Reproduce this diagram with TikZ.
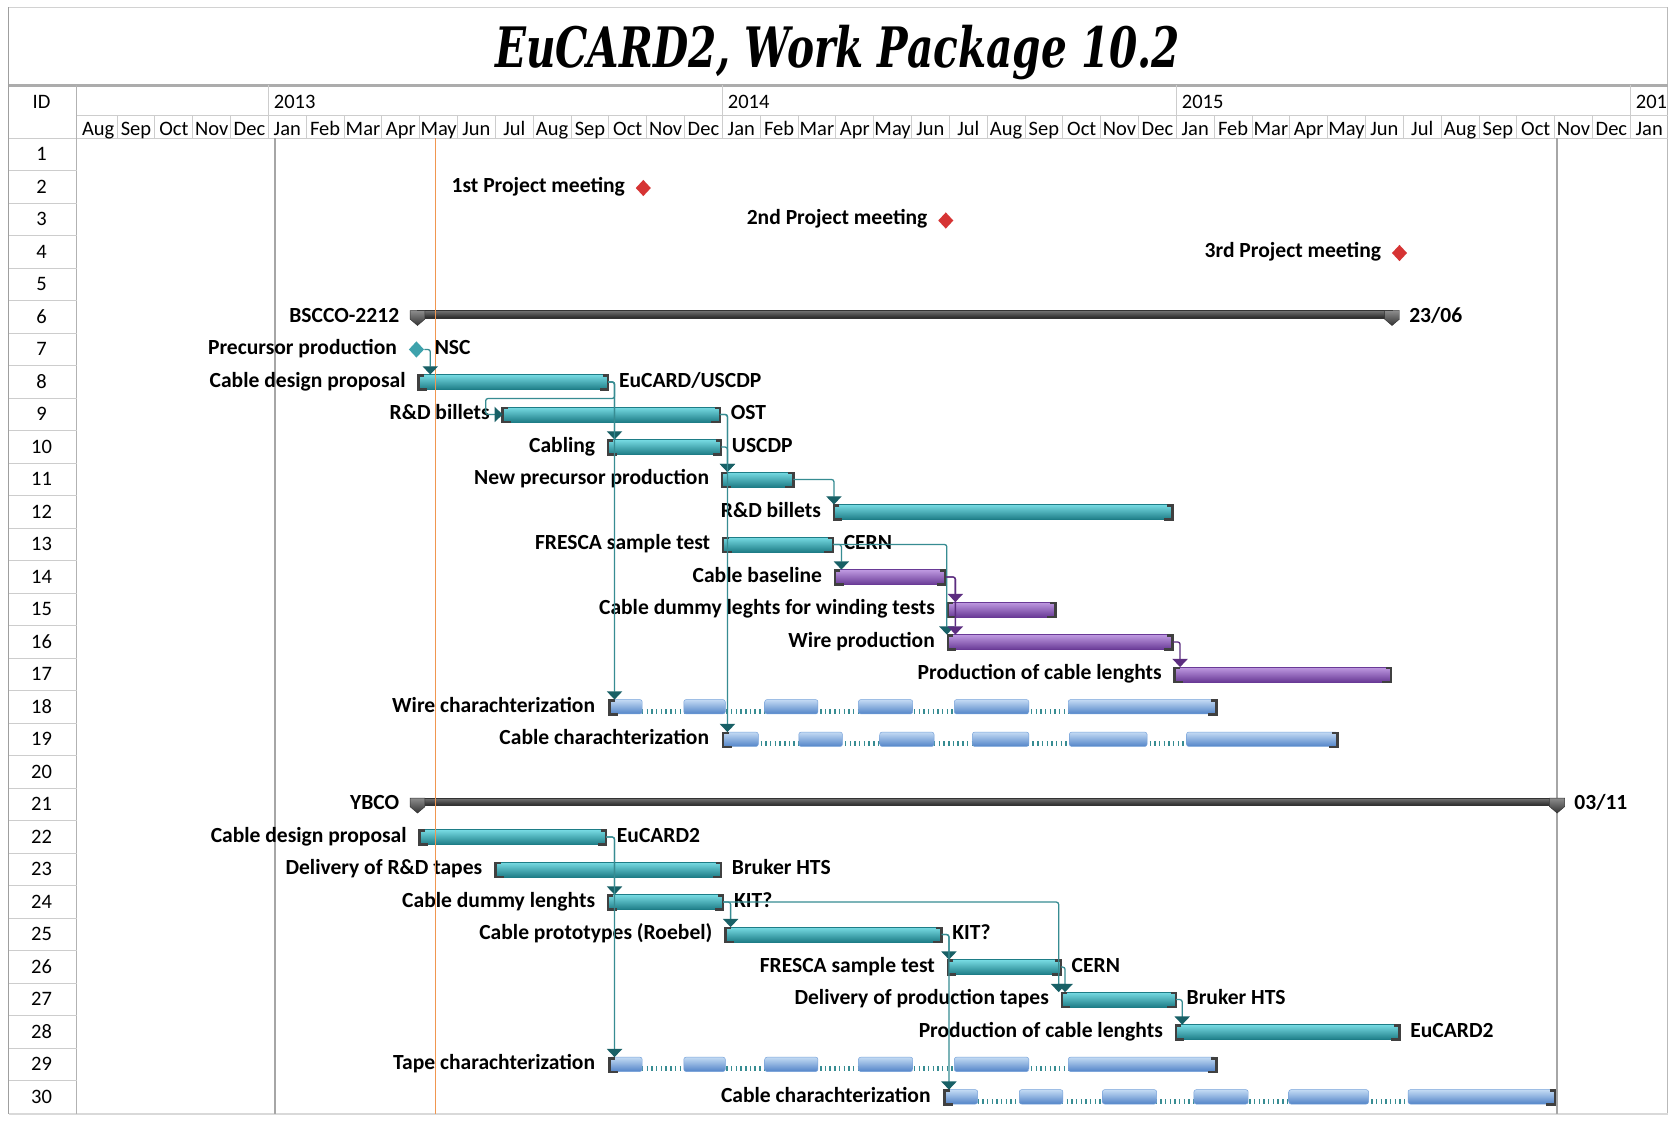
\documentclass[tikz,border=0pt]{standalone}
\usepackage{fontspec}
\setmainfont{Carlito}
\newfontfamily\titlefont{DejaVu Serif}
\usepackage{graphicx}
\usetikzlibrary{arrows.meta,calc,shapes.geometric}
\definecolor{barteal}{RGB}{62,182,192}
\definecolor{barteallight}{RGB}{120,220,228}
\definecolor{bartealdark}{RGB}{30,125,135}
\definecolor{linkteal}{RGB}{55,140,146}
\definecolor{arrowteal}{RGB}{24,96,102}
\definecolor{barpurple}{RGB}{150,100,195}
\definecolor{barpurplelight}{RGB}{192,155,226}
\definecolor{barpurpledark}{RGB}{105,58,150}
\definecolor{linkpurple}{RGB}{92,45,128}
\definecolor{splitblue}{RGB}{118,162,218}
\definecolor{splitbluelight}{RGB}{196,219,244}
\definecolor{splitbluedark}{RGB}{82,132,200}
\definecolor{milered}{RGB}{214,52,52}
\definecolor{mileteal}{RGB}{62,162,172}
\definecolor{todayorange}{RGB}{240,150,80}
\definecolor{gridgray}{RGB}{205,205,205}

\begin{document}
\begin{tikzpicture}[x=0.031953cm, y=-0.031953cm,
  declare function={ry(\r)=145+(\r-1)*30.52; mx(\m)=252+35.52*\m;},
  lab/.style={font={\bfseries\fontsize{18.4}{20}\selectfont}, inner sep=0pt},
  hdr/.style={font={\fontsize{17.5}{19}\selectfont}, inner sep=0pt},
  grid/.style={draw=gridgray, line width=0.8pt},
  tealbar/.style={top color=barteallight, middle color=barteal, bottom color=bartealdark, draw=bartealdark, line width=0.4pt},
  purplebar/.style={top color=barpurplelight, middle color=barpurple, bottom color=barpurpledark, draw=barpurpledark, line width=0.4pt},
  splitbar/.style={top color=splitbluelight, bottom color=splitbluedark, draw=splitblue, line width=0.4pt, rounded corners=2pt},
  splitdots/.style={draw=linkteal, line width=4.2pt, dash pattern=on 1.2pt off 2.8pt},
  bracket/.style={draw=black!75, line width=2.2pt},
  sumbar/.style={top color=black!55, bottom color=black!85, draw=black!80, line width=0.4pt},
  sumcap/.style={top color=black!45, bottom color=black!80, draw=black!80, line width=0.4pt},
  milestone/.style={diamond, inner sep=0pt, minimum width=13pt, minimum height=14pt},
  link/.style={draw=linkteal, line width=1.1pt, rounded corners=2pt, -{Triangle[width=13pt,length=7pt,color=arrowteal]}},
  plink/.style={draw=linkpurple, line width=1.1pt, rounded corners=2pt, -{Triangle[width=13pt,length=7pt,color=linkpurple]}}]

\fill[white] (0,0) rectangle (1568,1060);
\useasboundingbox (0,0) rectangle (1568,1060);

% Title
\node[inner sep=0pt, anchor=base] (title) at (786.5,63)
  {\resizebox{20.55cm}{1.27cm}{\titlefont\bfseries\itshape EuCARD2, Work Package 10.2}};

% Frame and header lines
\draw[gray!35, line width=1.5pt] (8,7) -- (1566,7);
\draw[gray!75, line width=1pt] (8,7) -- (8,1046);
\draw[gray!55, line width=1pt] (1566,7) -- (1566,1046);
\draw[gray!65, line width=2.5pt] (8,80) -- (1566,80);
\draw[gray!30, line width=2pt] (8,1046) -- (1566,1046);
\draw[grid] (72,108) -- (1566,108);
\draw[grid] (8,129.7) -- (1566,129.7);
\draw[gray!60, line width=1pt] (72,80) -- (72,1046);
\foreach \i in {-4,...,35}
    \draw[grid] ({mx(\i)},108) -- ({mx(\i)},129.7);
\foreach \i in {0,12,24,36}
    \draw[grid] ({mx(\i)},80) -- ({mx(\i)},129.7);

% Header labels
\node[hdr, anchor=base] (idhead) at (39,102) {ID};
\foreach \y/\m in {2013/0,2014/12,2015/24,201/36}
    \node[hdr, anchor=base west] (yr\m) at ({mx(\m)+5},102) {\y};
\foreach \n [count=\i from -5] in {Aug,Sep,Oct,Nov,Dec,Jan,Feb,Mar,Apr,May,Jun,Jul,Aug,Sep,Oct,Nov,Dec,Jan,Feb,Mar,Apr,May,Jun,Jul,Aug,Sep,Oct,Nov,Dec,Jan,Feb,Mar,Apr,May,Jun,Jul,Aug,Sep,Oct,Nov,Dec,Jan}
    \node[hdr, anchor=base] (mon\i) at ({mx(\i+0.5)},127) {\n};

% ID column
\foreach \k in {1,...,29}
    \draw[grid] (8,{129.7+\k*30.52}) -- (72,{129.7+\k*30.52});
\foreach \r in {1,...,30}
    \node[hdr, anchor=base] (id\r) at (39,{ry(\r)+6}) {\r};

% Project start / finish lines
\draw[gray!70, line width=1.4pt] (258,129.7) -- (258,1046);
\draw[gray!70, line width=1.4pt] (1462,129.7) -- (1462,1046);

% Meetings
\foreach \r/\x/\lft in {2/604/{1st Project meeting}, 3/888/{2nd Project meeting}, 4/1314/{3rd Project meeting}}{
    \node[milestone, fill=milered] (m\r) at (\x,{ry(\r)+1}) {};
    \node[lab, anchor=base east] (lab\r) at (\x-17,{ry(\r)+5}) {\lft};
}

% Summary bars
\foreach \r/\s/\e/\lft/\rgt in {6/392/1307/BSCCO-2212/{23/06}, 21/392/1462/YBCO/{03/11}}{
    \coordinate (s\r) at (\s,{ry(\r)});
    \coordinate (e\r) at (\e,{ry(\r)});
    \draw[sumbar] (\s,{ry(\r)-6}) rectangle (\e,{ry(\r)+1});
    \foreach \x in {\s,\e}
        \draw[sumcap] (\x-7,{ry(\r)-6}) -- (\x+7,{ry(\r)-6}) -- (\x+7,{ry(\r)+2}) -- (\x,{ry(\r)+8}) -- (\x-7,{ry(\r)+2}) -- cycle;
    \node[lab, anchor=base east] (lab\r) at (\s-17,{ry(\r)+5}) {\lft};
    \node[lab, anchor=base west] (res\r) at (\e+16,{ry(\r)+5}) {\rgt};
}

% Precursor milestone
\node[milestone, fill=mileteal] (m7) at (391,{ry(7)}) {};
\node[lab, anchor=base east] (lab7) at (373,{ry(7)+5}) {Precursor production};
\node[lab, anchor=base west] (res7) at (408,{ry(7)+5}) {NSC};

% Task bars
\foreach \r/\s/\e/\sty/\lft in {
    8/393/571/tealbar/{Cable design proposal},
    9/472/676/tealbar/{R\&D billets},
    10/571/677/tealbar/{Cabling},
    11/678/745/tealbar/{New precursor production},
    12/783/1101/tealbar/{R\&D billets},
    13/679/782/tealbar/{FRESCA sample test},
    14/784/888/purplebar/{Cable baseline},
    15/890/991/purplebar/{Cable dummy leghts for winding tests},
    16/890/1101/purplebar/{Wire production},
    17/1103/1306/purplebar/{Production of cable lenghts},
    22/394/569/tealbar/{Cable design proposal},
    23/465/677/tealbar/{Delivery of R\&D tapes},
    24/571/679/tealbar/{Cable dummy lenghts},
    25/681/884/tealbar/{Cable prototypes (Roebel)},
    26/890/996/tealbar/{FRESCA sample test},
    27/997/1104/tealbar/{Delivery of production tapes},
    28/1104/1314/tealbar/{Production of cable lenghts}}{
    \coordinate (s\r) at (\s,{ry(\r)});
    \coordinate (e\r) at (\e,{ry(\r)});
    \draw[\sty] (\s,{ry(\r)-7}) rectangle (\e,{ry(\r)+7});
    \draw[bracket] (\s+5,{ry(\r)-6}) -- (\s,{ry(\r)-6}) -- (\s,{ry(\r)+7}) -- (\s+8,{ry(\r)+7});
    \draw[bracket] (\e-5,{ry(\r)-6}) -- (\e,{ry(\r)-6}) -- (\e,{ry(\r)+7}) -- (\e-8,{ry(\r)+7});
    \node[lab, anchor=base east] (lab\r) at (\s-12,{ry(\r)+5}) {\lft};
}

% Split bars (characterization)
\foreach \r/\first/\last/\segs/\lft in {
    18/572/1142/{572/603,642/681,718/768,806/857,896/966,1003/1142}/{Wire charachterization},
    19/679/1256/{679/712,750/791,826/877,913/966,1004/1077,1114/1256}/{Cable charachterization},
    29/572/1142/{572/603,642/681,718/768,806/857,896/966,1003/1142}/{Tape charachterization},
    30/887/1460/{887/918,957/998,1035/1086,1121/1172,1210/1285,1322/1460}/{Cable charachterization}}{
    \coordinate (s\r) at (\first,{ry(\r)});
    \coordinate (e\r) at (\last,{ry(\r)});
    \draw[splitdots] (\first,{ry(\r)+4}) -- (\last,{ry(\r)+4});
    \foreach \a/\b in \segs
        \draw[splitbar] (\a,{ry(\r)-7}) rectangle (\b,{ry(\r)+6.5});
    \draw[bracket] (\first+5,{ry(\r)-6}) -- (\first,{ry(\r)-6}) -- (\first,{ry(\r)+7}) -- (\first+8,{ry(\r)+7});
    \draw[bracket] (\last-5,{ry(\r)-6}) -- (\last,{ry(\r)-6}) -- (\last,{ry(\r)+7}) -- (\last-8,{ry(\r)+7});
    \node[lab, anchor=base east] (lab\r) at (\first-13,{ry(\r)+5}) {\lft};
}

% Resource labels
\foreach \r/\t in {8/{EuCARD/USCDP}, 9/OST, 10/USCDP, 13/CERN, 22/EuCARD2, 23/{Bruker HTS}, 24/KIT?, 25/KIT?, 26/CERN, 27/{Bruker HTS}, 28/EuCARD2}
    \node[lab, anchor=base west] (res\r) at ($(e\r)+(10,5)$) {\t};

% Status date
\draw[todayorange, line width=1.2pt] (409,129.7) -- (409,1046);

% Links BSCCO-2212
\draw[link] (m7.east) -| ($(s8)+(11,-7)$);
\draw[link] (e8) -- ++(6,0) |- ($(s9)+(-16,-15)$) |- (s9);
\draw[link] (e8) -| ($(s10)+(6,-7)$);
\draw[link] (e8) -| ($(s18)+(5,-7)$);
\draw[link] (e9) -| ($(s11)+(5,-7)$);
\draw[link] (e10) -| ($(s11)+(5,-7)$);
\draw[link] (e9) -| ($(s19)+(4,-7)$);
\draw[link] (e11) -| ($(s12)+(0,-7)$);
\draw[link] (e13) -| ($(s14)+(6,-7)$);
\draw[link] (e13) -| ($(s16)+(-1,-7)$);
\draw[plink] (e14) -| ($(s15)+(7,-7)$);
\draw[plink] (e14) -| ($(s16)+(7,-7)$);
\draw[plink] (e16) -| ($(s17)+(5,-7)$);

% Links YBCO
\draw[link] (e22) -| ($(s24)+(6,-7)$);
\draw[link] (e22) -| ($(s29)+(5,-7)$);
\draw[link] (e24) -| ($(s25)+(5,-7)$);
\draw[link] (e24) -| ($(s27)+(-3,-7)$);
\draw[link] (e25) -| ($(s26)+(1,-7)$);
\draw[link] (e25) -| ($(s30)+(4,-7)$);
\draw[link] (e26) -| ($(s27)+(3,-7)$);
\draw[link] (e27) -| ($(s28)+(6,-7)$);
\end{tikzpicture}
\end{document}
